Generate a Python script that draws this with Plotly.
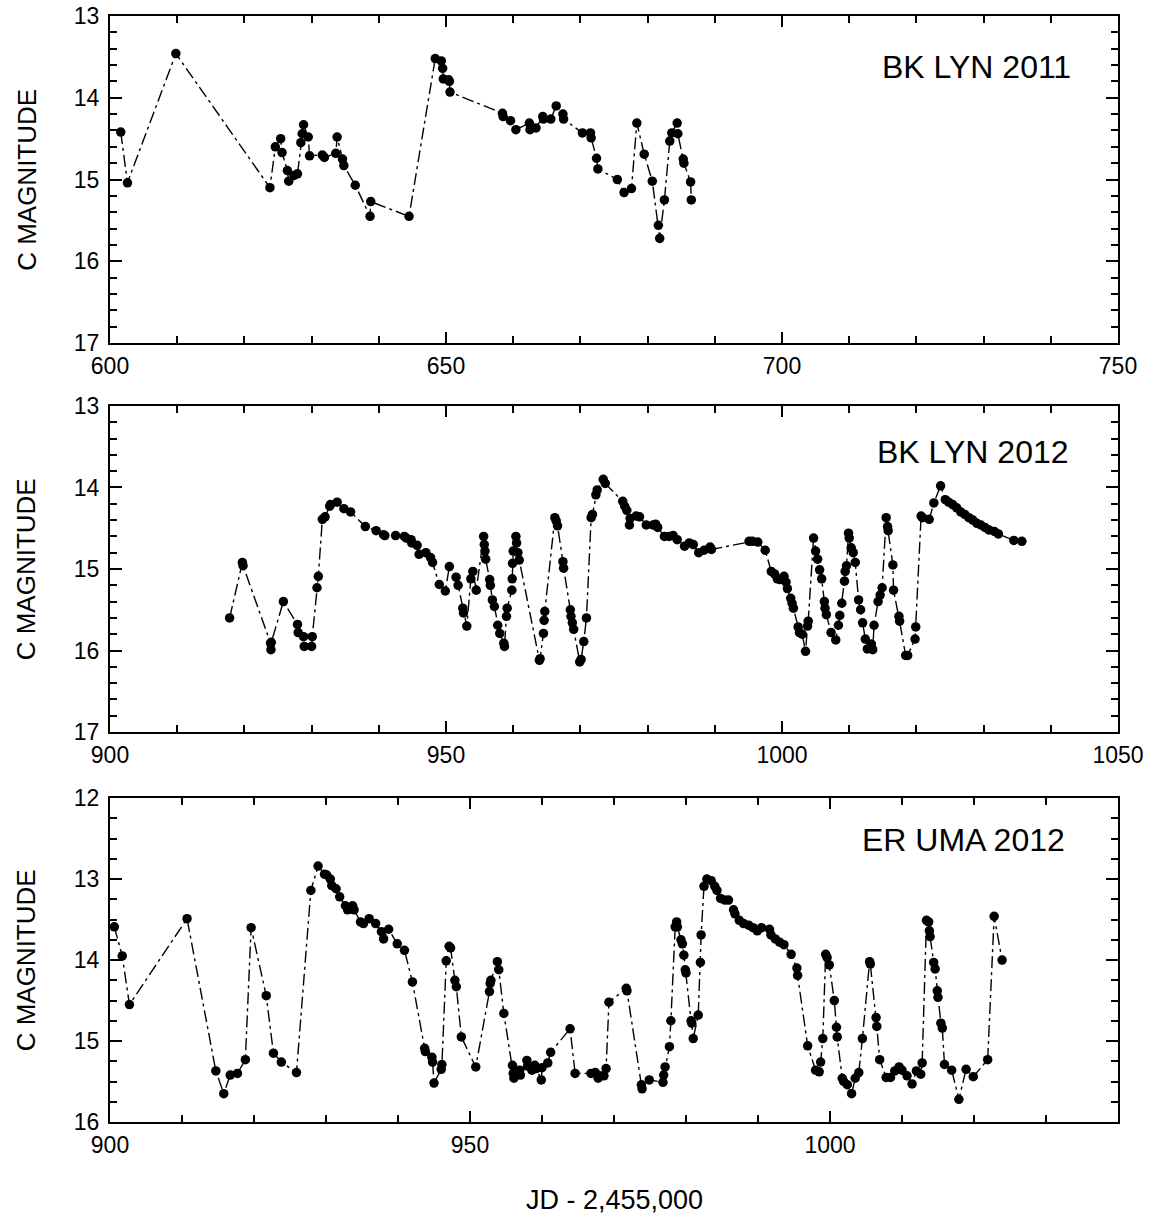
import plotly.graph_objects as go

# ---------------- data ----------------
bk2011_jd = [601.6, 602.6, 609.8, 623.8, 624.6, 625.4, 625.6, 626.4, 626.6, 627.4, 627.9,
             628.4, 628.6, 628.8, 629.5, 629.7, 631.6, 631.9, 633.6, 633.8, 634.6, 634.8,
             636.5, 638.7, 638.8, 644.5, 648.4, 649.3, 649.5, 649.6, 650.4, 650.5, 650.6,
             658.4, 658.5, 659.6, 660.4, 662.4, 662.5, 663.4, 664.4, 664.5, 665.6, 666.4,
             667.4, 667.5, 670.3, 671.5, 671.6, 672.4, 672.6, 675.5, 676.5, 677.6, 678.4,
             679.5, 680.7, 681.6, 681.8, 682.5, 683.3, 683.6, 684.4, 684.5, 685.3, 685.4,
             686.4, 686.5]
bk2011_mag = [14.42, 15.04, 13.46, 15.10, 14.60, 14.50, 14.67, 14.89, 15.02, 14.95, 14.93,
              14.55, 14.44, 14.33, 14.48, 14.71, 14.70, 14.73, 14.68, 14.48, 14.75, 14.83,
              15.07, 15.45, 15.27, 15.45, 13.52, 13.55, 13.64, 13.77, 13.78, 13.80, 13.93,
              14.19, 14.23, 14.28, 14.39, 14.31, 14.39, 14.37, 14.23, 14.26, 14.26, 14.10,
              14.20, 14.26, 14.43, 14.43, 14.49, 14.74, 14.87, 15.00, 15.16, 15.11, 14.31,
              14.69, 15.02, 15.56, 15.72, 15.25, 14.53, 14.43, 14.31, 14.44, 14.75, 14.80,
              15.03, 15.25]

bk2012_jd = [917.8, 919.7, 919.8, 923.9, 923.95, 924.0, 925.8, 927.9, 928.0, 928.8, 928.9,
             930.0, 930.1, 930.8, 931.0, 931.6, 932.0, 932.7, 932.8, 933.8, 934.8, 935.8,
             938.0, 939.6, 940.7, 940.9, 942.5, 943.8, 944.1, 944.8, 944.9, 945.7, 946.0,
             947.0, 947.7, 948.0, 949.0, 949.9, 950.5, 951.5, 951.8, 952.5, 952.6, 953.1,
             953.7, 954.0, 954.5, 955.6, 955.7, 955.8, 955.9, 956.5, 956.6, 956.9, 957.2,
             957.7, 958.0, 958.6, 958.7, 959.0, 959.1, 959.8, 959.85, 959.9, 960.0, 960.4,
             960.5, 960.7, 960.9, 963.9, 964.0, 964.5, 964.6, 964.7, 966.2, 966.4, 966.6,
             967.4, 967.5, 968.5, 968.6, 968.8, 969.0, 969.9, 970.1, 970.5, 970.9, 971.6,
             971.8, 972.3, 972.5, 973.4, 973.7, 976.3, 976.6, 976.9, 977.3, 977.4, 978.3,
             978.8, 979.8, 980.8, 981.2, 981.5, 982.5, 983.2, 983.8, 984.4, 985.5, 986.2,
             986.8, 987.6, 988.4, 989.3, 989.5, 995.1, 995.6, 996.4, 997.5, 998.4, 998.9,
             999.3, 999.7, 1000.3, 1000.6, 1000.8, 1001.3, 1001.5, 1001.7, 1002.4, 1002.6,
             1003.0, 1003.5, 1003.8, 1003.9, 1004.7, 1005.0, 1005.3, 1005.6, 1005.9, 1006.3,
             1006.4, 1006.6, 1007.3, 1008.0, 1008.4, 1008.6, 1008.9, 1009.3, 1009.4, 1009.6,
             1009.9, 1010.0, 1010.3, 1010.6, 1010.9, 1011.4, 1011.7, 1012.0, 1012.4, 1012.7,
             1013.3, 1013.5, 1013.7, 1014.3, 1014.6, 1014.9, 1015.5, 1015.7, 1015.8, 1016.5,
             1016.6, 1017.4, 1017.5, 1018.4, 1018.7, 1019.8, 1019.9, 1020.7, 1020.9, 1021.9,
             1022.6, 1023.6, 1024.3, 1024.8, 1025.4, 1026.0, 1026.6, 1027.2, 1027.8, 1028.4,
             1029.0, 1029.6, 1030.2, 1030.8, 1031.6, 1032.2, 1034.5, 1035.7]
bk2012_mag = [15.60, 14.92, 14.96, 15.91, 15.99, 15.90, 15.40, 15.68, 15.78, 15.83, 15.95,
              15.95, 15.83, 15.23, 15.09, 14.39, 14.36, 14.23, 14.21, 14.18, 14.26, 14.30,
              14.48, 14.53, 14.58, 14.59, 14.59, 14.60, 14.62, 14.64, 14.68, 14.71, 14.82,
              14.80, 14.86, 14.92, 15.19, 15.27, 14.97, 15.10, 15.20, 15.48, 15.54, 15.70,
              15.12, 15.03, 15.26, 14.60, 14.70, 14.78, 14.88, 15.13, 15.20, 15.38, 15.46,
              15.69, 15.79, 15.91, 15.95, 15.58, 15.48, 15.26, 15.12, 14.93, 14.78, 14.60,
              14.68, 14.80, 14.89, 16.12, 16.10, 15.79, 15.63, 15.52, 14.37, 14.41, 14.47,
              14.91, 14.99, 15.50, 15.58, 15.66, 15.74, 16.14, 16.11, 15.89, 15.60, 14.37,
              14.33, 14.09, 14.03, 13.90, 13.95, 14.17, 14.23, 14.28, 14.46, 14.38, 14.35,
              14.36, 14.46, 14.46, 14.45, 14.49, 14.60, 14.60, 14.59, 14.64, 14.72, 14.68,
              14.70, 14.80, 14.77, 14.73, 14.76, 14.66, 14.66, 14.67, 14.77, 15.03, 15.06,
              15.12, 15.13, 15.09, 15.16, 15.24, 15.36, 15.42, 15.48, 15.71, 15.78,
              15.80, 16.01, 15.70, 15.64, 14.62, 14.78, 14.88, 15.01, 15.12, 15.40,
              15.48, 15.56, 15.78, 15.87, 15.69, 15.57, 15.42, 15.15, 15.03, 14.96,
              14.56, 14.62, 14.74, 14.80, 14.92, 15.38, 15.50, 15.66, 15.86, 15.98,
              15.92, 15.99, 15.69, 15.40, 15.32, 15.23, 14.37, 14.48, 14.53, 14.95,
              15.26, 15.58, 15.64, 16.06, 16.06, 15.86, 15.71, 14.35, 14.37, 14.39,
              14.19, 13.98, 14.15, 14.18, 14.21, 14.25, 14.30, 14.33, 14.37, 14.40,
              14.44, 14.46, 14.49, 14.52, 14.54, 14.57, 14.65, 14.66]

eruma_jd = [900.6, 901.7, 902.7, 910.7, 914.7, 915.8, 916.7, 917.7, 918.8, 919.6, 921.7,
            922.7, 923.8, 925.9, 927.9, 928.9, 929.8, 930.1, 930.6, 930.8, 931.4, 931.9,
            932.7, 933.0, 933.7, 933.9, 934.8, 935.2, 936.0, 936.9, 937.7, 938.0, 938.7,
            939.9, 940.9, 942.0, 943.7, 943.8, 944.7, 944.8, 945.0, 946.0, 946.1, 946.7,
            947.1, 947.3, 947.9, 948.1, 948.8, 950.8, 952.7, 952.8, 952.9, 953.8, 954.0,
            954.7, 955.9, 956.0, 956.1, 956.9, 957.0, 957.9, 958.0, 958.6, 959.0, 959.2,
            959.9, 960.0, 960.8, 961.2, 963.9, 964.6, 966.8, 967.4, 967.8, 968.0, 968.6,
            968.9, 969.3, 971.7, 971.8, 973.8, 973.9, 974.9, 976.8, 976.9, 977.1, 977.7,
            977.9, 978.5, 978.7, 978.8, 979.3, 979.5, 979.7, 979.9, 980.0, 980.7, 980.8,
            981.0, 981.7, 982.0, 982.1, 982.5, 982.9, 983.5, 984.0, 984.3, 984.8, 985.4,
            985.9, 986.6, 986.8, 987.4, 988.0, 988.7, 989.3, 989.9, 990.5, 991.6, 991.8,
            992.4, 993.0, 993.6, 994.6, 995.4, 995.5, 996.9, 998.0, 998.5, 998.7, 999.0,
            999.4, 999.6, 999.9, 1000.6, 1000.9, 1001.0, 1001.7, 1001.9, 1002.4, 1003.0,
            1003.5, 1004.0, 1004.5, 1005.5, 1005.6, 1006.4, 1006.5, 1006.9, 1007.8, 1008.4,
            1009.0, 1009.6, 1010.0, 1010.7, 1011.4, 1012.0, 1012.6, 1012.8, 1013.4, 1013.7,
            1013.8, 1013.9, 1014.4, 1014.6, 1014.9, 1015.0, 1015.4, 1015.6, 1015.9, 1016.9,
            1017.9, 1018.9, 1019.9, 1021.9, 1022.8, 1023.9]
eruma_mag = [13.59, 13.95, 14.55, 13.49, 15.37, 15.65, 15.42, 15.40, 15.23, 13.60, 14.44,
             15.15, 15.26, 15.39, 13.14, 12.84, 12.94, 12.95, 13.00, 13.08, 13.12, 13.22,
             13.33, 13.38, 13.33, 13.38, 13.53, 13.55, 13.49, 13.55, 13.65, 13.74, 13.62,
             13.80, 13.88, 14.27, 15.09, 15.13, 15.20, 15.26, 15.52, 15.35, 15.29, 14.01,
             13.83, 13.85, 14.25, 14.33, 14.95, 15.32, 14.39, 14.29, 14.25, 14.02, 14.12,
             14.66, 15.30, 15.40, 15.46, 15.36, 15.42, 15.24, 15.31, 15.36, 15.30, 15.34,
             15.48, 15.33, 15.27, 15.14, 14.85, 15.40, 15.40, 15.39, 15.46, 15.43, 15.43,
             15.34, 14.52, 14.35, 14.38, 15.54, 15.59, 15.48, 15.51, 15.42, 15.32, 15.07,
             14.75, 13.59, 13.53, 13.59, 13.75, 13.80, 13.94, 14.12, 14.16, 14.75, 14.78,
             14.97, 14.68, 14.03, 13.69, 13.09, 13.00, 13.02, 13.09, 13.14, 13.24, 13.26,
             13.26, 13.38, 13.43, 13.51, 13.55, 13.57, 13.60, 13.64, 13.60, 13.62, 13.69,
             13.74, 13.78, 13.81, 13.93, 14.10, 14.19, 15.06, 15.36, 15.38, 15.26, 14.97,
             13.93, 13.97, 14.06, 14.50, 14.83, 14.95, 15.46, 15.50, 15.54, 15.65,
             15.46, 15.39, 14.97, 14.02, 14.05, 14.71, 14.82, 15.23, 15.45, 15.45,
             15.37, 15.32, 15.36, 15.43, 15.53, 15.37, 15.41, 15.27, 13.51, 13.53,
             13.64, 13.71, 14.03, 14.11, 14.38, 14.46, 14.78, 14.84, 15.29, 15.36,
             15.72, 15.35, 15.44, 15.23, 13.46, 14.00]

panel_labels = ["BK LYN 2011", "BK LYN 2012", "ER UMA 2012"]
y_title = "C MAGNITUDE"
x_title = "JD - 2,455,000"

x_ranges = [[600, 750], [900, 1050], [900, 1040]]
y_ranges = [[17, 13], [17, 13], [16, 12]]
x_ticks = [[600, 650, 700, 750], [900, 950, 1000, 1050], [900, 950, 1000]]
y_ticks = [[13, 14, 15, 16, 17], [13, 14, 15, 16, 17], [12, 13, 14, 15, 16]]
y_minor = [0.2, 0.2, 0.25]

# ---------------- figure ----------------
FONT = "Liberation Sans, Arial, sans-serif"
fig = go.Figure()

series = [(bk2011_jd, bk2011_mag), (bk2012_jd, bk2012_mag), (eruma_jd, eruma_mag)]
for i, (xs, ys) in enumerate(series):
    sfx = "" if i == 0 else str(i + 1)
    fig.add_trace(go.Scatter(
        x=xs, y=ys, mode="lines+markers",
        xaxis="x" + sfx, yaxis="y" + sfx,
        line=dict(color="black", width=1.4, dash="12px,4px,3px,4px"),
        marker=dict(color="black", size=9.5),
        showlegend=False, hoverinfo="x+y",
    ))

domains = [[0.7043, 1.0], [0.3526, 0.6474], [0.0, 0.2929]]

layout = dict(
    width=1156, height=1217,
    margin=dict(l=110, r=38, t=16, b=95, autoexpand=False),
    paper_bgcolor="white", plot_bgcolor="white",
    font=dict(family=FONT, color="black", size=23),
)

for i in range(3):
    sfx = "" if i == 0 else str(i + 1)
    layout["xaxis" + sfx] = dict(
        domain=[0, 1], anchor="y" + sfx, range=x_ranges[i],
        tickvals=x_ticks[i], ticktext=[str(v) for v in x_ticks[i]],
        ticks="inside", ticklen=11, tickwidth=1.5, tickcolor="black",
        minor=dict(ticks="inside", ticklen=7, tickwidth=1.5, dtick=10, tick0=0, tickcolor="black"),
        showline=True, linecolor="black", linewidth=2, mirror="allticks",
        showgrid=False, zeroline=False, automargin=False,
        tickfont=dict(size=23, family=FONT), ticklabelstandoff=1,
    )
    layout["yaxis" + sfx] = dict(
        domain=domains[i], anchor="x" + sfx, range=y_ranges[i],
        tickvals=y_ticks[i], ticktext=[str(v) for v in y_ticks[i]],
        ticks="inside", ticklen=12, tickwidth=1.5, tickcolor="black",
        minor=dict(ticks="inside", ticklen=7, tickwidth=1.5, dtick=y_minor[i], tick0=12, tickcolor="black"),
        showline=True, linecolor="black", linewidth=2, mirror="allticks",
        showgrid=False, zeroline=False, automargin=False,
        tickfont=dict(size=23, family=FONT), ticklabelstandoff=4,
    )

fig.update_layout(**layout)

label_pos = [(0.955, 0.844), (0.953, 0.859), (0.949, 0.872)]
for i, txt in enumerate(panel_labels):
    sfx = "" if i == 0 else str(i + 1)
    fig.add_annotation(text=txt, xref="x" + sfx + " domain", yref="y" + sfx + " domain",
                       x=label_pos[i][0], y=label_pos[i][1], xanchor="right", yanchor="middle",
                       showarrow=False, font=dict(size=32, family=FONT, color="black"))
    fig.add_annotation(text=y_title, xref="paper", yref="y" + sfx + " domain",
                       x=-0.083, y=0.5, xanchor="center", yanchor="middle", textangle=-90,
                       showarrow=False, font=dict(size=26, family=FONT, color="black"))

fig.add_annotation(text=x_title, xref="paper", yref="paper", x=0.5, y=-0.0705,
                   xanchor="center", yanchor="middle", showarrow=False,
                   font=dict(size=27, family=FONT, color="black"))

fig.write_html("out.html", config={"displayModeBar": False},
               post_script="document.body.style.margin='0';")
